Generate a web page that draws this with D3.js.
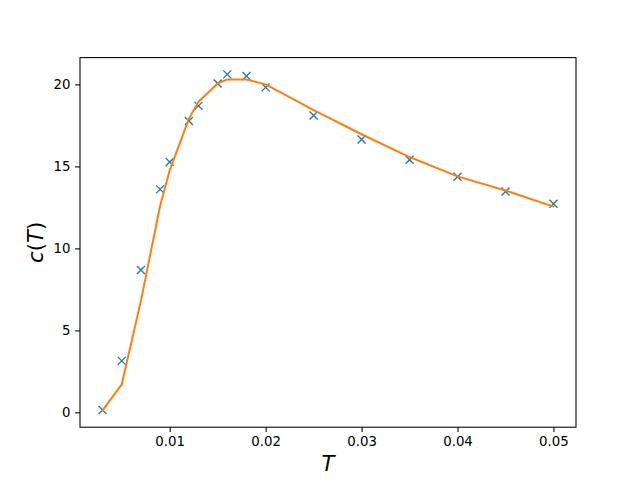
<html>
<head>
<style>
  body { margin: 0; background: #fff; }
  svg { display: block; }
  text { font-family: "DejaVu Sans", sans-serif; }
</style>
</head>
<body>
<svg id="viz"></svg>
<script src="https://d3js.org/d3.v7.min.js"></script>
<script>
// measured values (crosses)
var tData = [0.003, 0.005, 0.007, 0.009, 0.010, 0.012, 0.013, 0.015, 0.016, 0.018, 0.020, 0.025, 0.030, 0.035, 0.040, 0.045, 0.050];
var cData = [0.14, 3.14, 8.68, 13.6, 15.27, 17.77, 18.69, 20.06, 20.61, 20.51, 19.82, 18.1, 16.64, 15.41, 14.37, 13.47, 12.72];
// fitted curve (orange line)
var tFit = [0.003, 0.005, 0.007, 0.009, 0.010, 0.012, 0.013, 0.015, 0.016, 0.018, 0.020, 0.025, 0.030, 0.035, 0.040, 0.045, 0.050];
var cFit = [0.12, 1.71, 6.8, 12.6, 14.76, 17.9, 18.94, 20.06, 20.3, 20.3, 20.0, 18.43, 16.96, 15.57, 14.39, 13.53, 12.55];
var xTicks = [0.01, 0.02, 0.03, 0.04, 0.05];
var yTicks = [0, 5, 10, 15, 20];

var width = 640, height = 480;
var mLeft = 80, mRight = 576, mTop = 57.6, mBottom = 427.2;

var svg = d3.select("#viz").attr("width", width).attr("height", height);

// matplotlib style 5% margins
var allT = tData.concat(tFit), allC = cData.concat(cFit);
var tMin = d3.min(allT), tMax = d3.max(allT);
var cMin = d3.min(allC), cMax = d3.max(allC);
var tPad = (tMax - tMin) * 0.05, cPad = (cMax - cMin) * 0.05;

var x = d3.scaleLinear().domain([tMin - tPad, tMax + tPad]).range([mLeft, mRight]);
var y = d3.scaleLinear().domain([cMin - cPad, cMax + cPad]).range([mBottom, mTop]);

var xAxis = d3.axisBottom(x).tickValues(xTicks).tickFormat(d3.format(".2f")).tickSize(4.9).tickPadding(4.7);
var yAxis = d3.axisLeft(y).tickValues(yTicks).tickFormat(d3.format("d")).tickSize(4.9).tickPadding(4.7);

var gx = svg.append("g").attr("transform", "translate(0," + mBottom + ")").call(xAxis);
var gy = svg.append("g").attr("transform", "translate(" + mLeft + ",0)").call(yAxis);
[gx, gy].forEach(function(g) {
    g.select(".domain").remove();
    g.selectAll(".tick line").attr("stroke", "#000").attr("stroke-width", 1.07);
    g.selectAll(".tick text").attr("fill", "#000").style("font-size", "13.33px").style("font-family", "DejaVu Sans");
});

// crosses
var s = 4;
var marks = svg.append("g");
tData.forEach(function(t, i) {
    var px = x(t), py = y(cData[i]);
    marks.append("path")
        .attr("d", "M" + (px - s) + "," + (py - s) + "L" + (px + s) + "," + (py + s) +
                   "M" + (px - s) + "," + (py + s) + "L" + (px + s) + "," + (py - s))
        .attr("stroke", "#1f77b4")
        .attr("stroke-width", 1.33)
        .attr("fill", "none");
});

// fit line
var line = d3.line().x(function(d, i) { return x(tFit[i]); }).y(function(d) { return y(d); });
svg.append("path")
    .datum(cFit)
    .attr("d", line)
    .attr("fill", "none")
    .attr("stroke", "#ff7f0e")
    .attr("stroke-width", 2)
    .attr("stroke-linejoin", "round")
    .attr("stroke-linecap", "square");

// axes frame
svg.append("rect")
    .attr("x", mLeft).attr("y", mTop)
    .attr("width", mRight - mLeft).attr("height", mBottom - mTop)
    .attr("fill", "none").attr("stroke", "#000").attr("stroke-width", 1.07);

// axis labels
svg.append("text")
    .attr("x", (mLeft + mRight) / 2).attr("y", 471)
    .attr("text-anchor", "middle")
    .style("font-size", "21.3px").style("font-style", "italic")
    .text("T");

var yl = svg.append("text")
    .attr("transform", "translate(43," + ((mTop + mBottom) / 2) + ") rotate(-90)")
    .attr("text-anchor", "middle")
    .style("font-size", "21.3px");
yl.append("tspan").style("font-style", "italic").text("c");
yl.append("tspan").text("(");
yl.append("tspan").style("font-style", "italic").text("T");
yl.append("tspan").text(")");
</script>
</body>
</html>
